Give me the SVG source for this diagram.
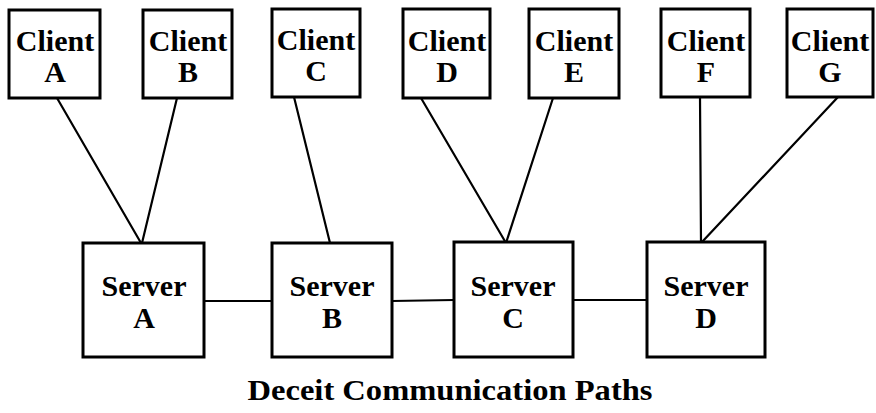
<svg xmlns="http://www.w3.org/2000/svg" width="876" height="413" viewBox="0 0 876 413">
<style>
.box{fill:#fff;stroke:#000;stroke-width:3}
.lbl{font-family:"Liberation Serif","Times New Roman",serif;font-weight:bold;font-size:30px;fill:#000;text-anchor:middle}
.conn line{stroke:#000;stroke-width:2.2;stroke-linecap:round}
</style>
<rect width="876" height="413" fill="#fff"/>
<g id="connectors" class="conn">
<line x1="57" y1="98" x2="141" y2="243"/>
<line x1="177" y1="98" x2="142" y2="243"/>
<line x1="294" y1="97" x2="330" y2="243"/>
<line x1="421" y1="98" x2="506" y2="243"/>
<line x1="553" y1="98" x2="506" y2="243"/>
<line x1="700" y1="97" x2="701" y2="242"/>
<line x1="838" y1="97" x2="702" y2="242"/>
<line x1="204" y1="301" x2="272" y2="301"/>
<line x1="392" y1="301" x2="454" y2="300"/>
<line x1="573" y1="300" x2="647" y2="300"/>
</g>
<g id="client-a"><rect class="box" x="9" y="10" width="91" height="88"/><text class="lbl" x="55" y="51">Client</text><text class="lbl" x="55" y="82">A</text></g>
<g id="client-b"><rect class="box" x="143" y="10" width="89" height="88"/><text class="lbl" x="188" y="51">Client</text><text class="lbl" x="188" y="82">B</text></g>
<g id="client-c"><rect class="box" x="272" y="9" width="88" height="88"/><text class="lbl" x="316" y="50">Client</text><text class="lbl" x="316" y="81">C</text></g>
<g id="client-d"><rect class="box" x="403" y="9" width="87" height="89"/><text class="lbl" x="447" y="51">Client</text><text class="lbl" x="447" y="82">D</text></g>
<g id="client-e"><rect class="box" x="529" y="9" width="90" height="89"/><text class="lbl" x="574" y="51">Client</text><text class="lbl" x="574" y="82">E</text></g>
<g id="client-f"><rect class="box" x="661" y="9" width="89" height="88"/><text class="lbl" x="706" y="51">Client</text><text class="lbl" x="706" y="82">F</text></g>
<g id="client-g"><rect class="box" x="787" y="9" width="86" height="88"/><text class="lbl" x="830" y="51">Client</text><text class="lbl" x="830" y="82">G</text></g>
<g id="server-a"><rect class="box" x="83" y="243" width="121" height="114"/><text class="lbl" x="144" y="296">Server</text><text class="lbl" x="144" y="328">A</text></g>
<g id="server-b"><rect class="box" x="272" y="243" width="120" height="114"/><text class="lbl" x="332" y="296">Server</text><text class="lbl" x="332" y="328">B</text></g>
<g id="server-c"><rect class="box" x="454" y="242" width="119" height="115"/><text class="lbl" x="513" y="296">Server</text><text class="lbl" x="513" y="328">C</text></g>
<g id="server-d"><rect class="box" x="647" y="242" width="118" height="115"/><text class="lbl" x="706" y="296">Server</text><text class="lbl" x="706" y="328">D</text></g>
<text id="caption" class="lbl" x="450" y="400" textLength="405" lengthAdjust="spacingAndGlyphs">Deceit Communication Paths</text>
</svg>
